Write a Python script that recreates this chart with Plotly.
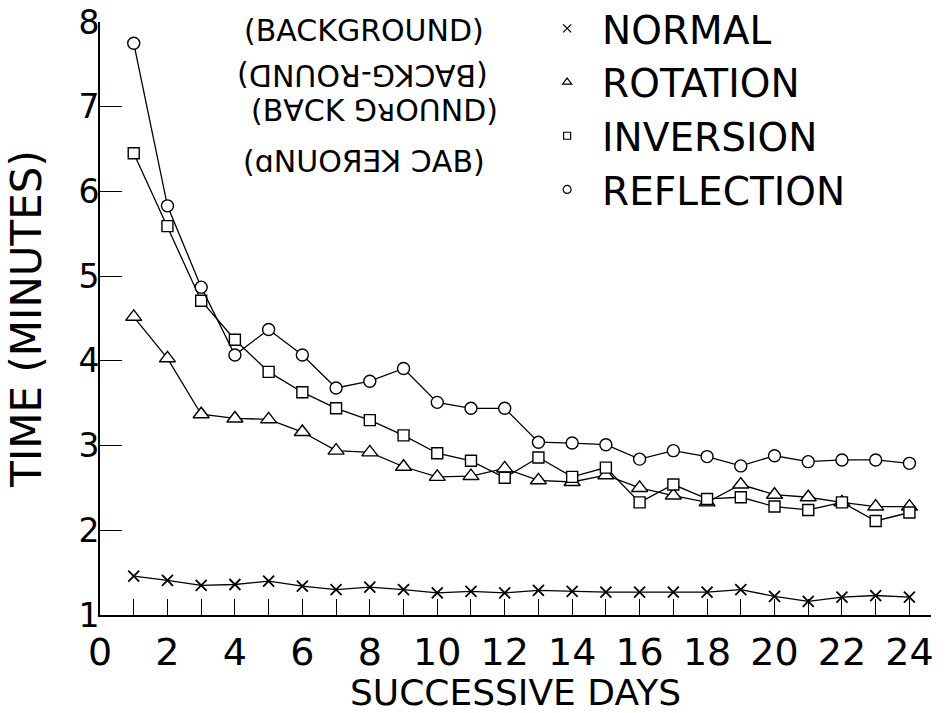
import plotly.graph_objects as go

days = list(range(1, 25))
normal = [1.46, 1.41, 1.35, 1.36, 1.40, 1.34, 1.30, 1.33, 1.30, 1.26, 1.28, 1.26,
          1.29, 1.28, 1.27, 1.27, 1.27, 1.27, 1.30, 1.22, 1.16, 1.21, 1.23, 1.21]
rotation = [4.52, 4.03, 3.37, 3.32, 3.31, 3.16, 2.94, 2.92, 2.75, 2.63, 2.64, 2.73,
            2.59, 2.57, 2.65, 2.50, 2.41, 2.33, 2.54, 2.42, 2.39, 2.33, 2.28, 2.28]
inversion = [6.45, 5.59, 4.71, 4.25, 3.87, 3.63, 3.44, 3.30, 3.12, 2.91, 2.82, 2.62,
             2.86, 2.63, 2.74, 2.33, 2.54, 2.37, 2.39, 2.28, 2.24, 2.33, 2.11, 2.21]
reflection = [7.75, 5.83, 4.87, 4.07, 4.37, 4.07, 3.68, 3.76, 3.91, 3.51, 3.44, 3.44,
              3.04, 3.03, 3.01, 2.84, 2.94, 2.87, 2.76, 2.88, 2.81, 2.83, 2.83, 2.79]

series_names = ["NORMAL", "ROTATION", "INVERSION", "REFLECTION"]
x_tickvals = list(range(0, 25))
x_ticktext = [str(v) if v % 2 == 0 else "" for v in x_tickvals]
y_tickvals = [1, 2, 3, 4, 5, 6, 7, 8]
y_ticktext = ["1", "2", "3", "4", "5", "6", "7", "8"]

note_lines = ["(BACKGROUND)", "(BACKG-ROUND)", "(B∀CK ⅁ᴚOՈND)", "(ɑNUOЯƎꓘ ƆAB)"]

FONT = "DejaVu Sans"
BLACK = "black"

fig = go.Figure()

styles = {
    "NORMAL": dict(symbol="x-thin", size=11, color=BLACK, line=dict(color=BLACK, width=1.8)),
    "ROTATION": dict(symbol="triangle-up", size=14, color="white", line=dict(color=BLACK, width=1.4)),
    "INVERSION": dict(symbol="square", size=11, color="white", line=dict(color=BLACK, width=1.4)),
    "REFLECTION": dict(symbol="circle", size=12, color="white", line=dict(color=BLACK, width=1.4)),
}
values = {"NORMAL": normal, "ROTATION": rotation, "INVERSION": inversion, "REFLECTION": reflection}

for name in series_names:
    fig.add_trace(go.Scatter(
        x=days, y=values[name], mode="lines+markers", name=name,
        line=dict(color=BLACK, width=1.3),
        marker=styles[name], showlegend=False,
    ))

legend_styles = {
    "NORMAL": dict(symbol="x-thin", size=8, color=BLACK, line=dict(color=BLACK, width=1.3)),
    "ROTATION": dict(symbol="triangle-up", size=8, color="white", line=dict(color=BLACK, width=1.2)),
    "INVERSION": dict(symbol="square", size=7, color="white", line=dict(color=BLACK, width=1.2)),
    "REFLECTION": dict(symbol="circle", size=8, color="white", line=dict(color=BLACK, width=1.2)),
}
for name in series_names:
    fig.add_trace(go.Scatter(
        x=[None], y=[None], mode="markers", name=name,
        marker=legend_styles[name], showlegend=True,
    ))

note_x = [7.84, 7.78, 8.13, 7.84]
note_y = [7.90, 7.37, 6.96, 6.35]
for i, txt in enumerate(note_lines):
    fig.add_annotation(
        x=note_x[i], y=note_y[i], xref="x", yref="y", text=txt, showarrow=False,
        textangle=180 if i == 1 else 0,
        font=dict(family=FONT, size=30, color=BLACK),
    )

fig.update_layout(
    width=946, height=713,
    margin=dict(l=100, r=15, t=22, b=98, autoexpand=False),
    paper_bgcolor="white", plot_bgcolor="white",
    font=dict(family=FONT, color=BLACK),
    legend=dict(
        x=0.520, y=1.043, xanchor="left", yanchor="top",
        itemwidth=60,
        font=dict(family=FONT, size=39, color=BLACK),
        bgcolor="rgba(0,0,0,0)", tracegroupgap=0,
    ),
    xaxis=dict(
        range=[0, 24.64], showgrid=False, zeroline=False, automargin=False,
        showline=True, linecolor=BLACK, linewidth=2,
        ticks="inside", ticklen=16, tickwidth=1.2, tickcolor=BLACK,
        tickvals=x_tickvals, ticktext=x_ticktext,
        tickfont=dict(family=FONT, size=38, color=BLACK),
        ticklabelstandoff=2,
        title=dict(text="SUCCESSIVE DAYS", font=dict(family=FONT, size=36, color=BLACK), standoff=8),
    ),
    yaxis=dict(
        range=[1, 8], showgrid=False, zeroline=False, automargin=False,
        showline=True, linecolor=BLACK, linewidth=2,
        ticks="inside", ticklen=22, tickwidth=1.2, tickcolor=BLACK,
        tickvals=y_tickvals, ticktext=y_ticktext,
        tickfont=dict(family=FONT, size=33, color=BLACK),
        ticklabelstandoff=-8,
        title=dict(text="TIME (MINUTES)", font=dict(family=FONT, size=42, color=BLACK), standoff=24),
    ),
)

fig.write_html(
    "out.html",
    config={"displayModeBar": False},
    post_script="document.body.style.margin='0';document.body.style.overflow='hidden';",
)
